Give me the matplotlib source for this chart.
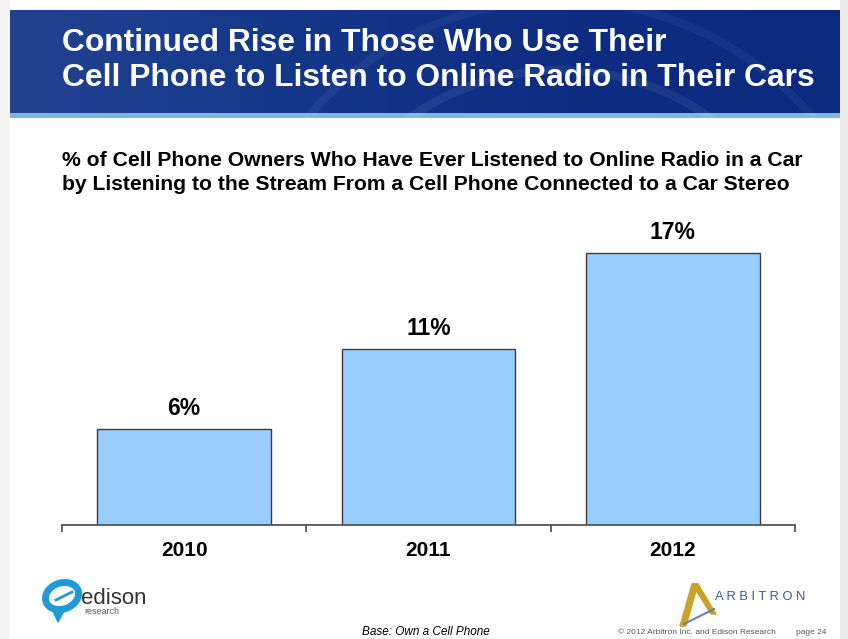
import numpy as np
import matplotlib
matplotlib.use("Agg")
import matplotlib.pyplot as plt
from matplotlib.patches import Rectangle, Polygon, Ellipse, Arc
from matplotlib.colors import LinearSegmentedColormap

plt.rcParams['font.family'] = ['Liberation Sans', 'DejaVu Sans']

years = ["2010", "2011", "2012"]
values = [6, 11, 17]
value_labels = ["6%", "11%", "17%"]
header_lines = ["Continued Rise in Those Who Use Their",
                "Cell Phone to Listen to Online Radio in Their Cars"]
chart_title = ["% of Cell Phone Owners Who Have Ever Listened to Online Radio in a Car",
               "by Listening to the Stream From a Cell Phone Connected to a Car Stereo"]
base_note = "Base: Own a Cell Phone"
copyright_note = "\u00a9 2012 Arbitron Inc. and Edison Research"
page_note = "page 24"

W, H = 848, 639
fig = plt.figure(figsize=(W / 100, H / 100), dpi=100)
fig.patch.set_facecolor("white")

def fx(px):
    return px / W

def fy(py):
    return 1 - py / H

bg = fig.add_axes([0, 0, 1, 1])
bg.axis("off")

# slide shadow edges
bg.add_patch(Rectangle((0, 0), 10, H, color="#f4f4f4", lw=0))
bg.add_patch(Rectangle((840, 0), 8, H, color="#ececec", lw=0))

# header gradient
grad = np.linspace(0, 1, 256).reshape(1, -1)
cmap = LinearSegmentedColormap.from_list("hdr", ["#21438f", "#15378a", "#0d2c82", "#0a2a80"])
bg.imshow(grad, extent=(10, 840, 113, 10), aspect="auto", cmap=cmap, zorder=1)
bg.add_patch(Rectangle((10, 113), 830, 5, color="#7fb6d9", lw=0, zorder=2))
bg.set_xlim(0, W)
bg.set_ylim(H, 0)
for r, a in [(260, 0.07), (330, 0.05)]:
    bg.add_patch(Arc((560, 330), 2 * r, 2 * r, theta1=200, theta2=330,
                     color="white", alpha=a, lw=6, zorder=2))

bg.text(62, 43, header_lines[0], color="white", fontsize=22.9, fontweight="bold",
        va="center", ha="left", zorder=3)
bg.text(62, 78, header_lines[1], color="white", fontsize=22.9, fontweight="bold",
        va="center", ha="left", zorder=3)

bg.text(62, 160, chart_title[0], color="black", fontsize=15.2, fontweight="bold",
        va="center", ha="left")
bg.text(62, 184, chart_title[1], color="black", fontsize=15.2, fontweight="bold",
        va="center", ha="left")

# chart axes
ax_left, ax_right, ax_bottom, ax_top = 62, 795, 525, 200
ax = fig.add_axes([fx(ax_left), fy(ax_bottom), fx(ax_right - ax_left), (ax_bottom - ax_top) / H])
ax.set_facecolor("none")
x = np.arange(len(years))
ax.bar(x, values, width=0.71, color="#99ccff", edgecolor="#3c3c3c", linewidth=1.0, zorder=2)
ax.set_xlim(-0.5, len(years) - 0.5)
ax.set_ylim(0, (ax_bottom - ax_top) / 16.0)
for xi, v, lab in zip(x, values, value_labels):
    ax.annotate(lab, (xi, v), xytext=(0, 15), textcoords="offset points",
                ha="center", va="center", fontsize=16.5, fontweight="bold")
for s in ["top", "right", "left"]:
    ax.spines[s].set_visible(False)
ax.spines["bottom"].set_color("#555555")
ax.spines["bottom"].set_linewidth(1.3)
ax.set_yticks([])
ax.set_xticks(np.arange(-0.5, len(years), 1.0))
ax.set_xticklabels([])
ax.tick_params(axis="x", length=5, width=1.3, color="#555555", direction="out")
for xi, yr in zip(x, years):
    ax.text(xi, -0.08, yr, transform=ax.get_xaxis_transform(), ha="center", va="center",
            fontsize=15, fontweight="bold")

# edison logo (approximation)
bg.add_patch(Ellipse((62, 596), 34, 26, angle=-20, fill=False, ec="#1e9ad6", lw=5, zorder=3))
bg.add_patch(Polygon([[52, 609], [58, 622], [64, 611]], closed=True, color="#1e9ad6", zorder=3))
bg.plot([56, 72], [600, 592], color="#1e9ad6", lw=2, zorder=3)
bg.text(81, 598, "edison", color="#333333", fontsize=16, ha="left", va="center", zorder=4)
bg.text(84, 612, "research", color="#555555", fontsize=6.5, ha="left", va="center", zorder=4)

# arbitron logo (approximation)
bg.add_patch(Polygon([[692, 584], [698, 584], [686, 626], [680, 626]], closed=True, color="#c9a227", zorder=3))
bg.add_patch(Polygon([[692, 584], [698, 584], [716, 614], [711, 614]], closed=True, color="#c9a227", zorder=3))
bg.plot([684, 714], [624, 609], color="#6a7fb0", lw=1.5, zorder=4)
bg.text(715, 597, "A R B I T R O N", color="#3a5a8c", fontsize=9.3, ha="left", va="center")

bg.text(426, 632, base_note, color="black", fontsize=8.5, fontstyle="italic", ha="center", va="center")
bg.text(618, 632, copyright_note, color="#555555", fontsize=6, ha="left", va="center")
bg.text(796, 632, page_note, color="#555555", fontsize=6, ha="left", va="center")

fig.savefig("out.png", dpi=100)
